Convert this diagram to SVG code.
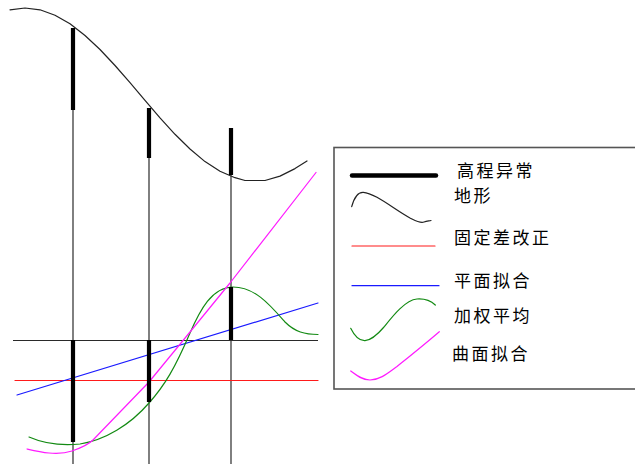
<svg xmlns="http://www.w3.org/2000/svg" width="635" height="466" viewBox="0 0 635 466">
<style>
.thin{fill:none;stroke:#2a2a2a;stroke-width:1.2}
.bar{fill:none;stroke:#000;stroke-width:4.2}
.crv{fill:none;stroke-width:1.2;stroke-linejoin:round;stroke-linecap:round}
.red{stroke:#ff1a1a}
.blue{stroke:#1a1aff}
.green{stroke:#138a13}
.mag{stroke:#ff1aff}
.blk{stroke:#222}
text{font-family:"Noto Sans CJK SC","Noto Sans",sans-serif;font-size:17px;letter-spacing:2.5px;fill:#000}
</style>
<rect width="635" height="466" fill="#fff"/>
<g id="chart">
<polyline id="terrain" class="crv blk" points="10,9.8 25,8 40,9.8 55,15.2 70,23.8 85,35.5 100,49.5 115,65.5 130,82.7 145,100.4 160,117.9 175,134.3 190,149 205,161.6 220,171.2 235,177.7 245,180.5 265,180.5 280,176.1 295,168.6 307,161"/>
<g id="axes">
<line class="thin" x1="73" y1="28" x2="73" y2="464"/>
<line class="thin" x1="149" y1="108" x2="149" y2="464"/>
<line class="thin" x1="231" y1="128" x2="231" y2="464"/>
<line class="thin" x1="13" y1="340.5" x2="318" y2="340.5"/>
</g>
<line id="fixed" class="crv red" x1="15" y1="380.5" x2="318" y2="380.5"/>
<line id="plane" class="crv blue" x1="17" y1="395" x2="318" y2="303"/>
<path id="weighted" class="crv green" d="M29,437 C45,444 60,446 80,444 C105,440 130,425 149,403 C165,385 175,368 190,333 C200,310 212,287 233,287 C255,287 270,305 285,322 C295,332 305,334.5 318,334.5"/>
<path id="surface" class="crv mag" d="M27,449 C40,452 57,456 72,451 C82,447.5 88,445 93,440 L149,382 L190,332 L230,283 L316,172.5"/>
<g id="anomalies">
<line class="bar" x1="73" y1="28" x2="73" y2="110"/>
<line class="bar" x1="73" y1="340" x2="73" y2="442"/>
<line class="bar" x1="149" y1="108" x2="149" y2="158"/>
<line class="bar" x1="149" y1="340" x2="149" y2="402"/>
<line class="bar" x1="231" y1="128" x2="231" y2="175"/>
<line class="bar" x1="231" y1="287" x2="231" y2="340"/>
</g>
</g>
<g id="legend">
<rect x="334" y="147.5" width="310" height="241.5" fill="#fff" stroke="#555" stroke-width="1.6"/>
<g id="leg-anomaly">
<line x1="352" y1="175.5" x2="436" y2="175.5" stroke="#000" stroke-width="4.5" stroke-linecap="round"/>
<text x="457" y="177">高程异常</text>
</g>
<g id="leg-terrain">
<path class="crv blk" d="M351.7,206.7 C354,198 358,192 363.3,192.3 C375,193 395,210 410,218 C416,221 420,223.5 424,222 C427,221 429,221 431,220.5"/>
<text x="454" y="202">地形</text>
</g>
<g id="leg-fixed">
<line class="crv red" x1="352" y1="246" x2="435" y2="246"/>
<text x="454" y="244">固定差改正</text>
</g>
<g id="leg-plane">
<line class="crv blue" x1="352" y1="285.7" x2="439" y2="285.7"/>
<text x="454" y="287">平面拟合</text>
</g>
<g id="leg-weighted">
<path class="crv green" d="M350.7,328.3 C354,335 359,341 365,340.7 C372,340 378,334 384,327 C392,317 405,300 417,299 C424,298.5 431,301 435.3,305"/>
<text x="454" y="322">加权平均</text>
</g>
<g id="leg-surface">
<path class="crv mag" d="M350.7,371 C356,375 362,380 370,380 C380,380 388,373 397,366.5 C410,356 425,344 439.3,331.7"/>
<text x="452" y="360">曲面拟合</text>
</g>
</g>
</svg>
